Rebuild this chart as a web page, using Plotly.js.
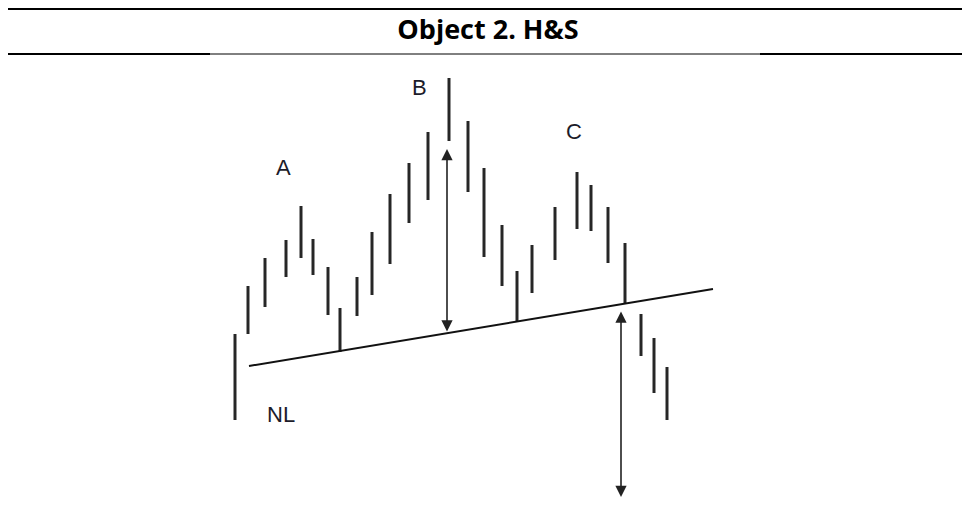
<!DOCTYPE html>
<html>
<head>
<meta charset="utf-8">
<script src="https://cdn.plot.ly/plotly-3.0.1.min.js"></script>
<style>
  html, body { margin: 0; padding: 0; background: #ffffff; }
  #chart { width: 964px; height: 522px; }
</style>
</head>
<body>
<div id="chart"></div>
<script>
// ---- Data (time position, high, low) ----
const barTime = [235, 248, 265, 286, 301, 313, 328, 340, 357, 372, 390, 409, 428, 449, 468, 484, 502, 517, 532, 555, 577, 591, 608, 625, 641, 654, 667];
const barHigh = [188, 236, 264, 282, 316, 283, 255, 214, 245, 290, 328, 359, 390, 444, 401, 354, 297, 251, 277, 315, 350, 337, 315, 279, 208, 184, 155];
const barLow  = [102, 188, 215, 245, 264, 247, 207, 170, 206, 227, 258, 299, 322, 381, 330, 265, 236, 200, 229, 262, 293, 291, 259, 218, 166, 129, 102];

// Neckline (NL)
const neckTime = [249, 713];
const neckPrice = [156, 233];

// Measured moves: [time, from price, to price]
const moveHeadTime = 447;
const moveHeadTop = 373;
const moveHeadBottom = 189;
const moveTargetTime = 621;
const moveTargetTop = 212;
const moveTargetBottom = 25;

// Labels
const labelText = ['A', 'B', 'C', 'NL'];
const labelTime = [283, 419, 574, 281];
const labelPrice = [355, 435, 391, 108];

const titleText = 'Object 2. H&S';

// ---- Build traces ----
const bx = [], by = [];
for (let i = 0; i < barTime.length; i++) {
  bx.push(barTime[i], barTime[i], null);
  by.push(barLow[i], barHigh[i], null);
}

const traces = [
  {
    type: 'scatter', mode: 'lines', x: bx, y: by,
    line: { color: '#262626', width: 3 },
    hoverinfo: 'skip', showlegend: false
  },
  {
    type: 'scatter', mode: 'lines', x: neckTime, y: neckPrice,
    line: { color: '#111111', width: 2 },
    hoverinfo: 'skip', showlegend: false
  }
];

const W = 964, H = 522;
function px(v) { return v / W; }
function py(v) { return 1 - v / H; }

const shapes = [
  { type: 'line', xref: 'paper', yref: 'paper', x0: px(8), x1: px(962), y0: py(9), y1: py(9), line: { color: '#000', width: 2.2 } },
  { type: 'line', xref: 'paper', yref: 'paper', x0: px(8), x1: px(210), y0: py(54), y1: py(54), line: { color: '#000', width: 2.2 } },
  { type: 'line', xref: 'paper', yref: 'paper', x0: px(210), x1: px(760), y0: py(54), y1: py(54), line: { color: '#000', width: 1 } },
  { type: 'line', xref: 'paper', yref: 'paper', x0: px(760), x1: px(962), y0: py(54), y1: py(54), line: { color: '#000', width: 2.2 } }
];

function arrow(t, yHead, yTail) {
  return {
    x: t, y: yHead, ax: t, ay: yTail, xref: 'x', yref: 'y', axref: 'x', ayref: 'y',
    text: '', showarrow: true, arrowhead: 2, arrowsize: 1.4, arrowwidth: 1.6,
    arrowcolor: '#222', arrowside: 'end+start'
  };
}

const annotations = [
  arrow(moveHeadTime, moveHeadTop, moveHeadBottom),
  arrow(moveTargetTime, moveTargetBottom, moveTargetTop)
];
for (let i = 0; i < labelText.length; i++) {
  annotations.push({
    x: labelTime[i], y: labelPrice[i], xref: 'x', yref: 'y',
    text: labelText[i], showarrow: false,
    font: { family: 'Liberation Sans, Arial, sans-serif', size: 22, color: '#1c1c2a' },
    xanchor: 'center', yanchor: 'middle'
  });
}

const layout = {
  width: W, height: H,
  margin: { l: 0, r: 0, t: 0, b: 0 },
  paper_bgcolor: '#ffffff', plot_bgcolor: '#ffffff',
  title: {
    text: '<b>' + titleText.replace('&', '&amp;') + '</b>',
    font: { family: 'Open Sans, sans-serif', size: 27, color: '#000' },
    xref: 'paper', yref: 'paper', x: px(488), y: py(30),
    xanchor: 'center', yanchor: 'middle'
  },
  xaxis: { range: [0, W], visible: false, fixedrange: true },
  yaxis: { range: [0, H], visible: false, fixedrange: true },
  shapes: shapes,
  annotations: annotations,
  showlegend: false
};

Plotly.newPlot('chart', traces, layout, { displayModeBar: false, staticPlot: true });
</script>
</body>
</html>
